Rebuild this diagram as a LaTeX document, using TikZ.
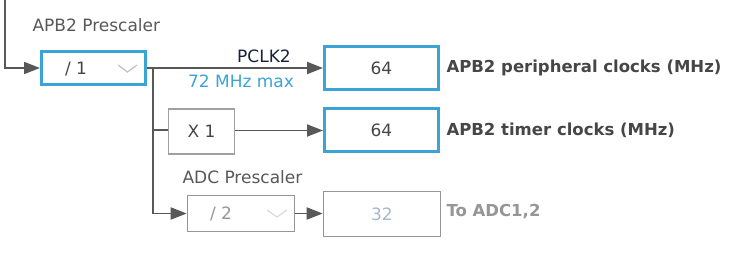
\documentclass[tikz,border=0pt]{standalone}
\usepackage{fontspec}
\setmainfont{DejaVu Sans}
\usepackage{xcolor}
\usetikzlibrary{arrows.meta,positioning}
\definecolor{blue1}{RGB}{59,163,214}
\definecolor{line1}{RGB}{88,88,88}
\definecolor{gray1}{RGB}{150,150,150}
\definecolor{text1}{RGB}{70,70,70}
\definecolor{navy1}{RGB}{22,32,58}
\definecolor{pale1}{RGB}{165,185,205}

\begin{document}
\begin{tikzpicture}[x=1pt,y=-1pt,
    font=\fontsize{17}{20}\selectfont,
    selbox/.style={draw=blue1, line width=3pt, minimum width=104pt, minimum height=33pt, inner sep=0pt},
    outbox/.style={draw=blue1, line width=3pt, minimum width=114pt, minimum height=43pt, inner sep=0pt, text=text1},
    greybox/.style={draw=gray1, line width=1.6pt, inner sep=0pt},
    wire/.style={draw=line1, line width=1.8pt},
    sigarrow/.style={wire, -{Triangle[length=16pt,width=12pt]}},
    chevron/.style={draw=gray1!60, line width=1.2pt},
    caption/.style={text=text1, font=\fontsize{16.5}{20}\selectfont\bfseries, anchor=west}
]
    \useasboundingbox (0,0) rectangle (740,264);

    % APB2 prescaler
    \node[text=text1!90, anchor=west, name=pretitle] at(29,25) {APB2 Prescaler};
    \node[selbox, name=pre] at(93.5,68) {};
    \node[text=text1, name=pretext] at(76,69) {/ 1};
    \draw[chevron] (118,65) -- (127.5,72) -- (137,65);

    \coordinate (in) at (5,0);
    \draw[sigarrow] (in) |- (pre.west);

    % outputs
    \node[outbox, name=out1] at(381.5,68) {64};
    \node[outbox, name=out2] at(381.5,130.5) {64};
    \node[caption, name=cap1] at(443,68) {APB2 peripheral clocks (MHz)};
    \node[caption, name=cap2] at(443,130) {APB2 timer clocks (MHz)};

    \draw[sigarrow] (pre.east) -- node[above=1pt, text=navy1, xshift=29pt] {PCLK2} node[below=3pt, text=blue1, xshift=6pt] {72 MHz max} (out1.west);

    % timer multiplier
    \node[greybox, draw=gray1!90, minimum width=66pt, minimum height=45pt, text=text1, name=mul] at(201.5,131.5) {X 1};
    \coordinate (split) at (153,68);
    \coordinate (splitB) at (153,130);
    \draw[wire] (splitB) -- (mul.west |- splitB);
    \draw[sigarrow] (mul.east |- out2) -- (out2.west);

    % ADC prescaler
    \node[text=text1!90, anchor=west, name=adctitle] at(179,177) {ADC Prescaler};
    \node[greybox, minimum width=107pt, minimum height=36pt, name=adc] at(241,213.5) {};
    \node[text=gray1, name=adctext] at(221,214) {/ 2};
    \draw[chevron, draw=gray1!35] (267,210) -- (277,217) -- (287,210);
    \node[greybox, minimum width=117pt, minimum height=45pt, text=pale1, name=adcout] at(382,214) {32};
    \node[caption, text=gray1, name=adccap] at(443,212) {To ADC1,2};

    \draw[sigarrow] (split) |- (adc.west);
    \draw[sigarrow] (adc.east) -- (adc.east -| adcout.west);
\end{tikzpicture}
\end{document}
